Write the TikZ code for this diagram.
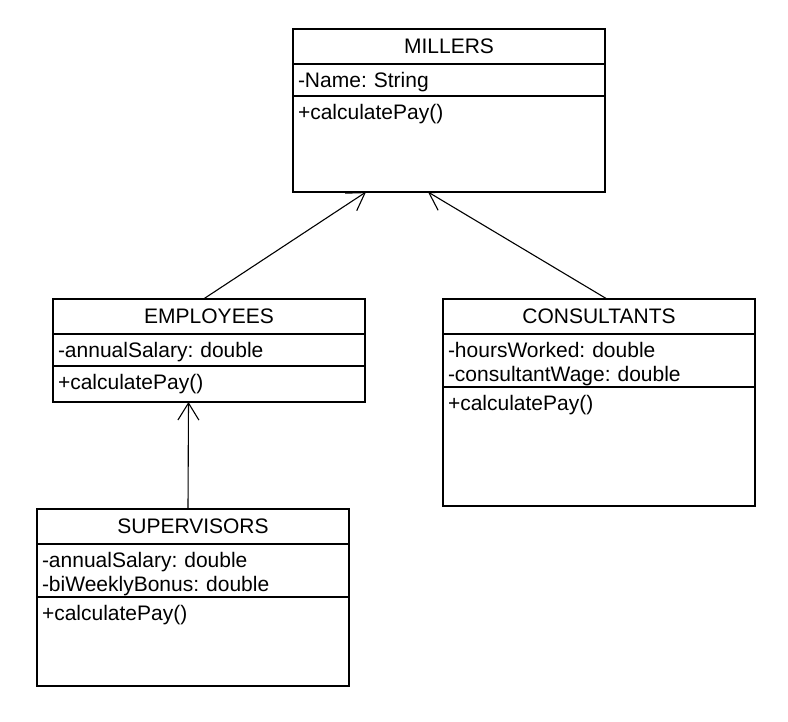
\documentclass[tikz,border=0pt]{standalone}
\usepackage{fontspec}
\setmainfont{Liberation Sans}
\usetikzlibrary{positioning,arrows.meta}
\frenchspacing

\tikzset{
    classname/.style={draw, line width=1.1pt, outer sep=0pt, minimum width=312pt, minimum height=35pt, inner sep=0pt},
    members/.style={draw, line width=1.1pt, outer sep=0pt, text width=302pt, inner xsep=5pt, inner ysep=0pt,
        align=left, text height=23pt, text depth=#1},
    inherits/.style={line width=1.1pt, -{Straight Barb[length=17pt,width=21pt]}}
}

\begin{document}
\begin{tikzpicture}[x=1pt, y=-1pt, font=\fontsize{21}{24}\selectfont]
    \useasboundingbox [fill=white] (0,0) rectangle (788,721);

    % MILLERS
    \node [classname, anchor=north west] (millers) at (293,29) {MILLERS};
    \node [members=9pt, below=0pt of millers] (millersattr) {-Name: String};
    \node [members=73pt, below=0pt of millersattr] (millersops) {+calculatePay()};

    % EMPLOYEES
    \node [classname, anchor=north west] (employees) at (53,299) {EMPLOYEES};
    \node [members=9pt, below=0pt of employees] (employeesattr) {-annualSalary: double};
    \node [members=13pt, below=0pt of employeesattr] (employeesops) {+calculatePay()};

    % CONSULTANTS
    \node [classname, anchor=north west] (consultants) at (443,299) {CONSULTANTS};
    \node [members=30pt, below=0pt of consultants] (consultantsattr)
        {-hoursWorked: double\\-consultantWage: double};
    \node [members=96pt, below=0pt of consultantsattr] (consultantsops) {+calculatePay()};

    % SUPERVISORS
    \node [classname, anchor=north west] (supervisors) at (37,509) {SUPERVISORS};
    \node [members=30pt, below=0pt of supervisors] (supervisorsattr)
        {-annualSalary: double\\-biWeeklyBonus: double};
    \node [members=66pt, below=0pt of supervisorsattr] (supervisorsops) {+calculatePay()};

    % Draw inheritance arrows
    \draw [inherits] ([xshift=-5.5pt]employees.north) -- ([xshift=-83pt]millersops.south);
    \draw [inherits] ([xshift=8pt]consultants.north) -- ([xshift=-21pt]millersops.south);
    \draw [inherits] ([xshift=-5pt]supervisors.north) -- ([xshift=-20.5pt]employeesops.south);
\end{tikzpicture}
\end{document}
